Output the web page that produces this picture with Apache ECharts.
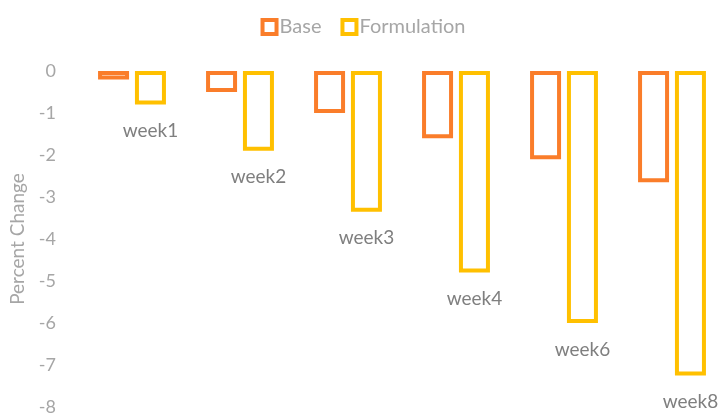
<!DOCTYPE html>
<html>
<head>
<meta charset="utf-8">
<script src="https://cdn.jsdelivr.net/npm/echarts@6/dist/echarts.min.js"></script>
<style>
  html, body { margin: 0; padding: 0; background: #fff; }
  #chart { width: 726px; height: 416px; }
</style>
</head>
<body>
<div id="chart"></div>
<script>
var weeks = ['week1', 'week2', 'week3', 'week4', 'week6', 'week8']
var baseData = [-0.2, -0.5, -1.0, -1.6, -2.1, -2.65]
var formulationData = [-0.8, -1.9, -3.35, -4.8, -6.0, -7.25]
var yTicks = [0, -1, -2, -3, -4, -5, -6, -7, -8]

var orange = '#FA7D2A'
var gold = '#FFC000'
var font = 'Lato, "Open Sans", sans-serif'

var myChart = echarts.init(document.getElementById('chart'))

var option = {
  animation: false,
  legend: {
    data: ['Base', 'Formulation'],
    top: 12,
    left: 'center',
    itemWidth: 14,
    itemHeight: 14,
    itemGap: 19,
    icon: 'rect',
    itemStyle: { borderWidth: 4 },
    textStyle: { color: '#a6a6a6', fontSize: 20, fontFamily: font, padding: [0, 0, 0, -2] }
  },
  grid: { left: 76, top: 71, width: 660, height: 338 },
  xAxis: {
    type: 'category',
    data: weeks,
    axisLine: { show: false },
    axisTick: { show: false },
    axisLabel: { show: false }
  },
  yAxis: {
    type: 'value',
    min: yTicks[yTicks.length - 1],
    max: yTicks[0],
    interval: 1,
    name: 'Percent Change',
    nameLocation: 'middle',
    nameGap: 51,
    nameTextStyle: { color: '#a6a6a6', fontSize: 19, fontFamily: font },
    axisLine: { show: false },
    axisTick: { show: false },
    splitLine: { show: false },
    axisLabel: { color: '#a6a6a6', fontSize: 18, fontFamily: font, margin: 22 }
  },
  series: [{
    name: 'Base',
    type: 'bar',
    data: baseData,
    barWidth: 31,
    barGap: '19%',
    itemStyle: { color: '#fff', borderColor: orange, borderWidth: 4 }
  }, {
    name: 'Formulation',
    type: 'bar',
    data: formulationData,
    barWidth: 31,
    itemStyle: { color: '#fff', borderColor: gold, borderWidth: 4 },
    label: {
      show: true,
      position: 'bottom',
      distance: 17,
      formatter: '{b}',
      color: '#7f7f7f',
      fontSize: 19,
      fontFamily: font
    }
  }]
}

myChart.setOption(option)
</script>
</body>
</html>
